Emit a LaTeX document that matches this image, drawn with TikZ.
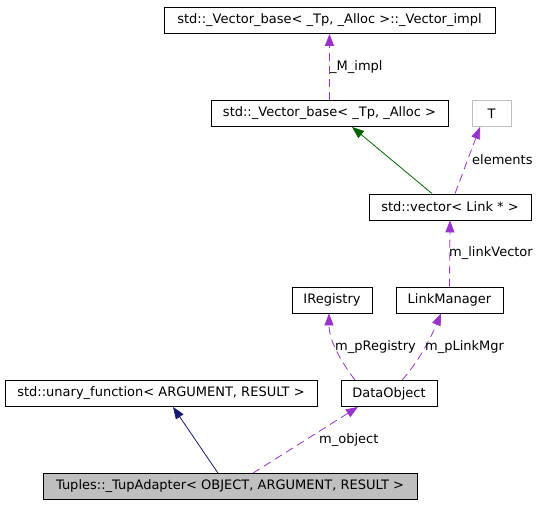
\documentclass[tikz,border=0pt]{standalone}
\usepackage{fontspec}
\setmainfont{DejaVu Sans}
\usetikzlibrary{arrows.meta}
\definecolor{attrcol}{HTML}{9A32CD}
\definecolor{inhcol}{HTML}{006400}
\definecolor{pubcol}{HTML}{191970}
\definecolor{boxgray}{HTML}{BFBFBF}
\begin{document}
\begin{tikzpicture}[x=1pt,y=-1pt,
  font=\fontsize{13}{15}\selectfont,
  cls/.style={draw=black,line width=0.8pt,minimum height=26pt,inner sep=0pt},
  attr/.style={attrcol,line width=0.8pt,dash pattern=on 8pt off 5pt,
    -{Triangle[length=12pt,width=9pt]}},
  inh/.style={inhcol,line width=0.8pt,-{Triangle[length=12pt,width=9pt]}},
  pub/.style={pubcol,line width=0.8pt,-{Triangle[length=12pt,width=9pt]}},
  lbl/.style={anchor=west,inner sep=0pt,text=black}]
\useasboundingbox (0,0) rectangle (540,507);
% classes
\node[cls,minimum width=331pt] (impl) at (329.5,20.5) {std::\_Vector\_base< \_Tp, \_Alloc >::\_Vector\_impl};
\node[cls,minimum width=237pt] (vbase) at (329.5,113.5) {std::\_Vector\_base< \_Tp, \_Alloc >};
\node[cls,draw=boxgray,minimum width=39pt] (T) at (491.5,113.5) {T};
\node[cls,minimum width=162pt] (vec) at (450,207) {std::vector< Link * >};
\node[cls,minimum width=80pt] (ireg) at (332,300) {IRegistry};
\node[cls,minimum width=107pt] (lmgr) at (449.5,300) {LinkManager};
\node[cls,minimum width=312pt] (unary) at (161,393.5) {std::unary\_function< ARGUMENT, RESULT >};
\node[cls,minimum width=96pt] (dobj) at (389,393.5) {DataObject};
\node[cls,fill=boxgray,minimum width=374pt] (tup) at (230,486.5) {Tuples::\_TupAdapter< OBJECT, ARGUMENT, RESULT >};
% relations
\draw[attr] (vbase.north) -- (impl.south);
\node[lbl] (limpl) at (330,67) {\_M\_impl};
\draw[inh] ([xshift=-18pt]vec.north) -- ([xshift=22.5pt]vbase.south);
\draw[attr] ([xshift=5pt]vec.north) -- ([xshift=-11.5pt]T.south);
\node[lbl] (lelem) at (472,160) {elements};
\draw[attr] (lmgr.north) -- (vec.south);
\node[lbl] (llink) at (449,253) {m\_linkVector};
\draw[attr] ([xshift=-34pt]dobj.north) .. controls (340,360) and (329,340) .. ([xshift=-3pt]ireg.south);
\node[lbl] (lreg) at (335,347) {m\_pRegistry};
\draw[attr] ([xshift=13pt]dobj.north) .. controls (420,360) and (432,335) .. ([xshift=-8.5pt]lmgr.south);
\node[lbl] (lmgrl) at (425,347) {m\_pLinkMgr};
\draw[pub] ([xshift=-12pt]tup.north) -- ([xshift=12pt]unary.south);
\draw[attr] ([xshift=23pt]tup.north) -- ([xshift=-31pt]dobj.south);
\node[lbl] (lobj) at (319,440) {m\_object};
\end{tikzpicture}
\end{document}
